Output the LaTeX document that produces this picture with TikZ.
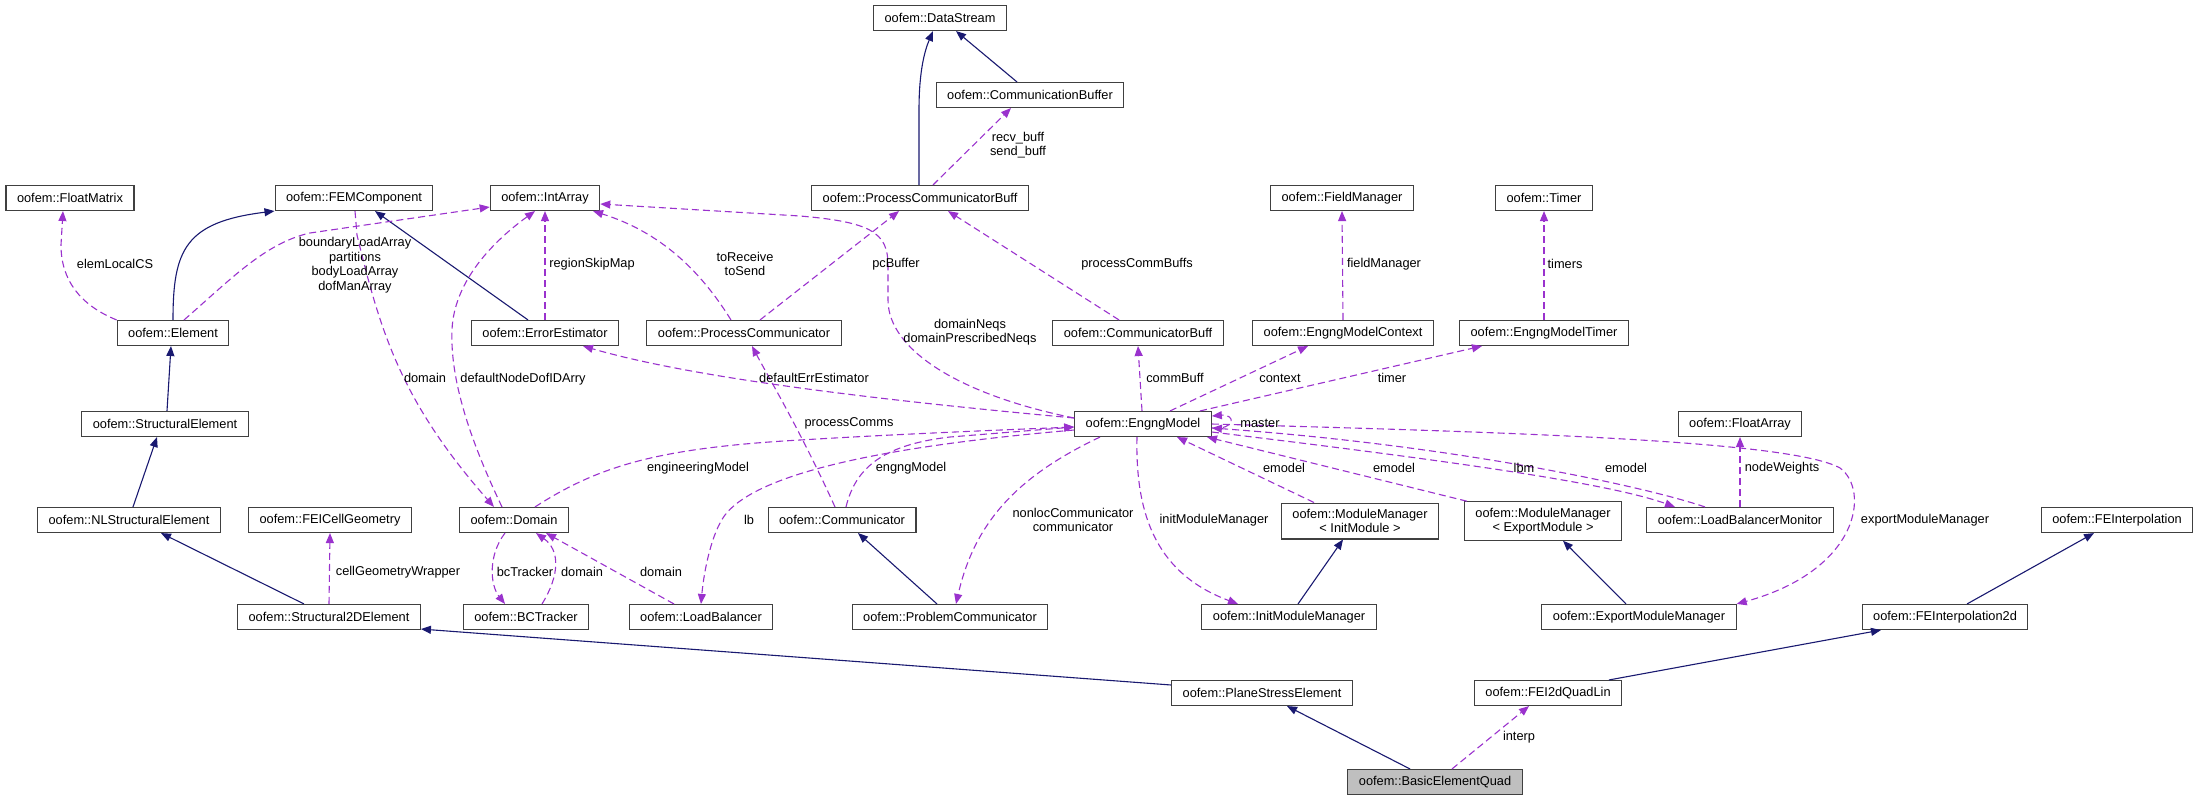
\documentclass[tikz,border=0pt]{standalone}
\usepackage{fontspec}
\setmainfont{Liberation Sans}
\usetikzlibrary{arrows.meta}
\definecolor{inherit}{HTML}{191970}
\definecolor{usage}{HTML}{9A32CD}
\newcommand{\dxfont}{\fontsize{12.8bp}{14.5bp}\selectfont}

\begin{document}
\begin{tikzpicture}[x=1bp, y=-1bp,
  cls/.style={draw=black!75, line width=1.1bp, inner xsep=11bp, inner ysep=3bp, minimum height=25bp, font=\dxfont, align=center},
  base/.style={inherit, line width=1.1bp, -{Triangle[length=10bp,width=8bp]}},
  uses/.style={usage, line width=1.1bp, dash pattern=on 7bp off 4bp, -{Triangle[length=10bp,width=8bp]}},
  lbl/.style={font=\dxfont, inner sep=0pt, align=center}]
\useasboundingbox (0,0) rectangle (2200,801);

%Classes
\node[cls] (DataStream) at (940,18) {oofem::DataStream};
\node[cls] (CommBuffer) at (1030,95) {oofem::CommunicationBuffer};
\node[cls] (FloatMatrix) at (70,198) {oofem::FloatMatrix};
\node[cls] (FEMComponent) at (354,198) {oofem::FEMComponent};
\node[cls] (IntArray) at (545,198) {oofem::IntArray};
\node[cls] (PCBuff) at (920,198) {oofem::ProcessCommunicatorBuff};
\node[cls] (FieldManager) at (1342,198) {oofem::FieldManager};
\node[cls] (Timer) at (1544,198) {oofem::Timer};
\node[cls] (Element) at (173,333) {oofem::Element};
\node[cls] (ErrEstimator) at (545,333) {oofem::ErrorEstimator};
\node[cls] (ProcComm) at (744,333) {oofem::ProcessCommunicator};
\node[cls] (CommunicatorBuff) at (1138,333) {oofem::CommunicatorBuff};
\node[cls] (EMContext) at (1343,333) {oofem::EngngModelContext};
\node[cls] (EMTimer) at (1544,333) {oofem::EngngModelTimer};
\node[cls] (StructElem) at (165,424) {oofem::StructuralElement};
\node[cls] (EngngModel) at (1143,424) {oofem::EngngModel};
\node[cls] (FloatArray) at (1740,424) {oofem::FloatArray};
\node[cls] (NLStructElem) at (129,520) {oofem::NLStructuralElement};
\node[cls] (FEICellGeom) at (330,520) {oofem::FEICellGeometry};
\node[cls] (Domain) at (514,520) {oofem::Domain};
\node[cls] (Communicator) at (842,520) {oofem::Communicator};
\node[cls, inner ysep=6bp] (MMInit) at (1360,521) {oofem::ModuleManager\\{< InitModule >}};
\node[cls, inner ysep=6bp] (MMExport) at (1543,521) {oofem::ModuleManager\\{< ExportModule >}};
\node[cls] (LBMonitor) at (1740,520) {oofem::LoadBalancerMonitor};
\node[cls] (FEInterp) at (2117,520) {oofem::FEInterpolation};
\node[cls] (Struct2DElem) at (329,617) {oofem::Structural2DElement};
\node[cls] (BCTracker) at (526,617) {oofem::BCTracker};
\node[cls] (LoadBalancer) at (701,617) {oofem::LoadBalancer};
\node[cls] (ProblemComm) at (950,617) {oofem::ProblemCommunicator};
\node[cls] (InitMM) at (1289,617) {oofem::InitModuleManager};
\node[cls] (ExportMM) at (1639,617) {oofem::ExportModuleManager};
\node[cls] (FEInterp2d) at (1945,617) {oofem::FEInterpolation2d};
\node[cls] (PlaneStress) at (1262,693) {oofem::PlaneStressElement};
\node[cls] (QuadLin) at (1548,693) {oofem::FEI2dQuadLin};
\node[cls, fill=black!25] (BasicQuad) at (1435,782) {oofem::BasicElementQuad};

%Inheritance
\draw[base] (Element.north) .. controls (173,250) and (185,222) .. (FEMComponent.south west);
\draw[base] ([xshift=-17bp]ErrEstimator.north) -- ([xshift=21bp]FEMComponent.south);
\draw[base] ([xshift=2bp]StructElem.north) -- ([xshift=-2bp]Element.south);
\draw[base] ([xshift=4bp]NLStructElem.north) -- ([xshift=-8bp]StructElem.south);
\draw[base] ([xshift=-25bp]Struct2DElem.north) -- ([xshift=32bp]NLStructElem.south);
\draw[base] ([yshift=8bp]PlaneStress.west) -- ([yshift=1bp]Struct2DElem.south east);
\draw[base] ([xshift=-25bp]BasicQuad.north) -- ([xshift=25bp]PlaneStress.south);
\draw[base] ([xshift=-1bp]PCBuff.north) -- (919,110) .. controls (919,70) and (925,50) .. ([xshift=-7bp]DataStream.south);
\draw[base] ([xshift=-13bp]CommBuffer.north) -- ([xshift=16bp]DataStream.south);
\draw[base] ([xshift=-13bp]ProblemComm.north) -- ([xshift=16bp]Communicator.south);
\draw[base] ([xshift=9bp]InitMM.north) -- ([xshift=-17bp]MMInit.south);
\draw[base] ([xshift=-13bp]ExportMM.north) -- ([xshift=20bp]MMExport.south);
\draw[base] ([xshift=22bp]FEInterp2d.north) -- ([xshift=-23bp]FEInterp.south);
\draw[base] ([xshift=61bp]QuadLin.north) -- ([xshift=-64bp]FEInterp2d.south);

%Usage
\draw[uses] (Element.north west) .. controls (80,305) and (61,280) .. (61,245) -- ([xshift=-7bp]FloatMatrix.south);
\draw[uses] ([xshift=11bp]Element.north) .. controls (230,280) and (265,243) .. (310,233) -- ([yshift=-9bp]IntArray.west);
\draw[uses] ([xshift=1bp]FEMComponent.south) -- (357,235) .. controls (380,330) and (400,400) .. ([xshift=-20bp]Domain.north);
\draw[uses] ([xshift=-12bp]Domain.north) .. controls (470,440) and (450,380) .. (452,330) .. controls (454,280) and (495,240) .. ([xshift=-10bp]IntArray.south);
\draw[uses] (ErrEstimator.north) -- (IntArray.south);
\draw[uses] ([xshift=-13bp]ProcComm.north) .. controls (700,270) and (660,232) .. ([xshift=48bp]IntArray.south);
\draw[uses] ([xshift=16bp]ProcComm.north) -- ([xshift=-21bp]PCBuff.south);
\draw[uses] ([xshift=13bp]PCBuff.north) -- ([xshift=-19bp]CommBuffer.south);
\draw[uses] ([xshift=-19bp]CommunicatorBuff.north) -- ([xshift=28bp]PCBuff.south);
\draw[uses] ([yshift=6bp]EngngModel.west) .. controls (960,395) and (888,350) .. (888,300) -- (888,265) .. controls (888,232) and (870,222) .. (800,216) -- ([yshift=-6bp]IntArray.east);
\draw[uses] ([yshift=6bp]EngngModel.west) .. controls (900,402) and (700,380) .. ([xshift=38bp]ErrEstimator.south);
\draw[uses] ([xshift=-7bp]Communicator.north) .. controls (800,430) and (770,380) .. ([xshift=8bp]ProcComm.south);
\draw[uses] ([xshift=-1bp]EngngModel.north) -- (CommunicatorBuff.south);
\draw[uses] ([xshift=27bp]EngngModel.north) -- ([xshift=-35bp]EMContext.south);
\draw[uses] ([xshift=57bp]EngngModel.north) -- ([xshift=-62bp]EMTimer.south);
\draw[uses] (EMContext.north) -- (FieldManager.south);
\draw[uses] (EMTimer.north) -- (Timer.south);
\draw[uses] ([yshift=-4bp]EngngModel.east) .. controls +(24,2) and +(24,-2) .. ([yshift=8bp]EngngModel.east);
\draw[uses] ([xshift=21bp]Domain.north) .. controls (600,465) and (660,448) .. (800,440) .. controls (900,434) and (1000,430) .. ([yshift=-3bp]EngngModel.west);
\draw[uses] ([xshift=4bp]Communicator.north) .. controls (855,470) and (880,445) .. (950,437) -- ([yshift=-3bp]EngngModel.west);
\draw[uses] ([yshift=-6bp]EngngModel.west) .. controls (900,445) and (760,470) .. (725,515) .. controls (712,532) and (704,570) .. (LoadBalancer.north);
\draw[uses] ([xshift=-43bp]EngngModel.south) .. controls (1020,475) and (975,520) .. ([xshift=6bp]ProblemComm.north);
\draw[uses] ([xshift=-6bp]EngngModel.south) .. controls (1135,520) and (1160,575) .. ([xshift=-51bp]InitMM.north);
\draw[uses] ([xshift=-46bp]MMInit.north) -- ([xshift=34bp]EngngModel.south);
\draw[uses] ([xshift=-76bp]MMExport.north) -- ([xshift=64bp]EngngModel.south);
\draw[uses] ([yshift=-8bp]EngngModel.east) .. controls (1400,455) and (1600,480) .. ([xshift=-65bp]LBMonitor.north);
\draw[uses] ([xshift=-35bp]LBMonitor.north) .. controls (1640,485) and (1450,445) .. ([yshift=-4bp]EngngModel.east);
\draw[uses] (LBMonitor.north) -- (FloatArray.south);
\draw[uses] (EngngModel.east) .. controls (1500,432) and (1790,440) .. (1840,468) .. controls (1870,490) and (1860,570) .. (ExportMM.north east);
\draw[uses] ([xshift=16bp]BCTracker.north) .. controls (560,575) and (560,550) .. ([xshift=22bp]Domain.south);
\draw[uses] ([xshift=-9bp]Domain.south) .. controls (488,555) and (490,585) .. ([xshift=-21bp]BCTracker.north);
\draw[uses] ([xshift=-27bp]LoadBalancer.north) -- ([xshift=32bp]Domain.south);
\draw[uses] (Struct2DElem.north) -- (FEICellGeom.south);
\draw[uses] ([xshift=17bp]BasicQuad.north) -- ([xshift=-19bp]QuadLin.south);

%Labels
\node[lbl] (lElemCS) at (115,264) {elemLocalCS};
\node[lbl] (lLoadArr) at (355,265) {boundaryLoadArray\\partitions\\bodyLoadArray\\dofManArray};
\node[lbl] (lDomainA) at (425,378) {domain};
\node[lbl] (lDofID) at (523,379) {defaultNodeDofIDArry};
\node[lbl] (lSkip) at (592,264) {regionSkipMap};
\node[lbl] (lToRecv) at (745,264) {toReceive\\toSend};
\node[lbl] (lPcBuf) at (896,264) {pcBuffer};
\node[lbl] (lRecv) at (1018,145) {recv\_buff\\send\_buff};
\node[lbl] (lProcBufs) at (1137,264) {processCommBuffs};
\node[lbl] (lNeqs) at (970,332) {domainNeqs\\domainPrescribedNeqs};
\node[lbl] (lErrEst) at (814,378) {defaultErrEstimator};
\node[lbl] (lProcComms) at (849,423) {processComms};
\node[lbl] (lCommBuff) at (1175,378) {commBuff};
\node[lbl] (lContext) at (1280,378) {context};
\node[lbl] (lTimer) at (1392,378) {timer};
\node[lbl] (lFieldMan) at (1384,264) {fieldManager};
\node[lbl] (lTimers) at (1565,264) {timers};
\node[lbl] (lMaster) at (1260,423) {master};
\node[lbl] (lEngModel) at (698,468) {engineeringModel};
\node[lbl] (lEngngModel) at (911,468) {engngModel};
\node[lbl] (lLb) at (749,520) {lb};
\node[lbl] (lNonloc) at (1073,520) {nonlocCommunicator\\communicator};
\node[lbl] (lInitMM) at (1214,520) {initModuleManager};
\node[lbl] (lEmodelA) at (1284,468) {emodel};
\node[lbl] (lEmodelB) at (1394,468) {emodel};
\node[lbl] (lLbm) at (1524,468) {lbm};
\node[lbl] (lEmodelC) at (1626,468) {emodel};
\node[lbl] (lWeights) at (1782,468) {nodeWeights};
\node[lbl] (lExportMM) at (1925,520) {exportModuleManager};
\node[lbl] (lDomainB) at (582,572) {domain};
\node[lbl] (lBcTracker) at (525,572) {bcTracker};
\node[lbl] (lDomainC) at (661,572) {domain};
\node[lbl] (lCellGeom) at (398,572) {cellGeometryWrapper};
\node[lbl] (lInterp) at (1519,737) {interp};
\end{tikzpicture}
\end{document}
